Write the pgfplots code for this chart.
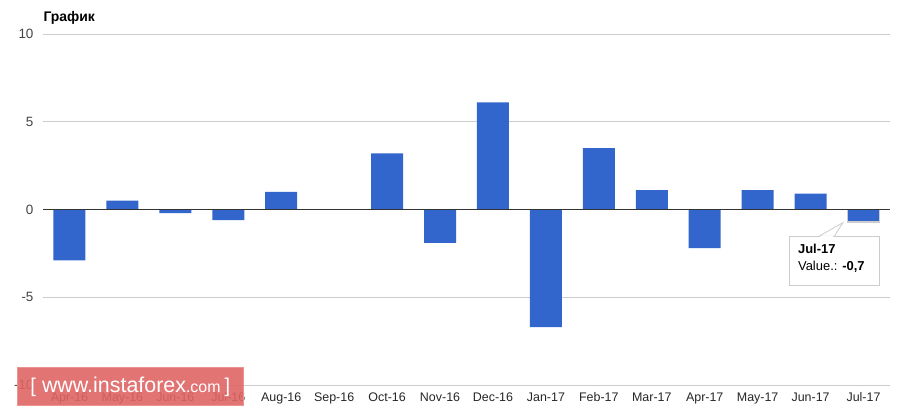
\documentclass[border=0pt]{standalone}
\usepackage{pgfplots}
\pgfplotsset{compat=1.18}
\usepackage{fontspec}
\setmainfont{Liberation Sans}
\definecolor{barblue}{HTML}{3366CC}
\definecolor{gridgrey}{HTML}{CCCCCC}
\definecolor{ticklab}{HTML}{444444}
\definecolor{wmred}{HTML}{E06565}
\begin{document}
\begin{tikzpicture}
\begin{axis}[
  scale only axis,
  width=847bp, height=351bp,
  at={(0,0)}, anchor=south west,
  xmin=-0.5, xmax=15.5,
  ymin=-10, ymax=10,
  axis line style={draw=none},
  ytick={-10,-5,0,5,10},
  yticklabels={-10,-5,0,5,10},
  xtick={0,...,15},
  xticklabels={Apr-16,May-16,Jun-16,Jul-16,Aug-16,Sep-16,Oct-16,Nov-16,Dec-16,Jan-17,Feb-17,Mar-17,Apr-17,May-17,Jun-17,Jul-17},
  major tick length=0pt,
  ymajorgrids,
  grid style={gridgrey, line width=0.8bp},
  yticklabel style={font=\fontsize{13.5}{15}\selectfont, text=ticklab, xshift=-6bp},
  xticklabel style={font=\fontsize{12.5}{15}\selectfont, text=black!85, yshift=-4bp},
  ybar, bar width=32bp, bar shift=0pt,
  clip=false,
]
\addplot[fill=barblue, draw=none] coordinates {
  (0,-2.9) (1,0.5) (2,-0.2) (3,-0.6) (4,1.0) (5,0) (6,3.2) (7,-1.9)
  (8,6.1) (9,-6.7) (10,3.5) (11,1.1) (12,-2.2) (13,1.1) (14,0.9)
};
\addplot[fill=barblue, draw=gridgrey, line width=1.5bp] coordinates {(15,-0.7)};
% zero line
\draw[black!80, line width=0.8bp] (axis cs:-0.5,0) -- (axis cs:15.5,0);
% tooltip
\filldraw[fill=white, draw=gridgrey, line width=0.8bp]
  (axis cs:14.16,-1.52) -- (axis cs:14.61,-0.75) -- (axis cs:14.45,-1.52) -- cycle;
\node[draw=gridgrey, fill=white, line width=0.8bp, anchor=north west,
  minimum width=90bp, minimum height=49bp, inner sep=0pt]
  (tip) at (axis cs:13.59,-1.53) {};
\fill[white] (axis cs:14.18,-1.52) rectangle (axis cs:14.43,-1.62);
\node[anchor=north west, align=left, inner sep=0pt,
  font=\fontsize{13}{17}\selectfont]
  at ([xshift=9bp, yshift=-8bp]tip.north west)
  {\textbf{Jul-17}\\Value.: \textbf{-0,7}};
\end{axis}
% title
\node[anchor=base west, font=\bfseries\fontsize{14}{16}\selectfont]
  at (-3bp,363bp) {График};
% watermark
\node[fill=wmred, fill opacity=0.9, text opacity=1, draw=wmred!70!white,
  line width=0.6bp, text=white, minimum width=226bp, minimum height=38bp,
  inner sep=0pt, anchor=south west] at (-26bp,-21bp)
  {{\fontsize{20}{22}\selectfont[\hspace{6bp}}{\fontsize{21.5}{22}\selectfont www.instaforex}{\fontsize{16}{22}\selectfont.com}{\fontsize{20}{22}\selectfont\hspace{4bp}]}};
\pgfresetboundingbox
\path (-43bp,-34bp) rectangle (866bp,385bp);
\end{tikzpicture}
\end{document}
